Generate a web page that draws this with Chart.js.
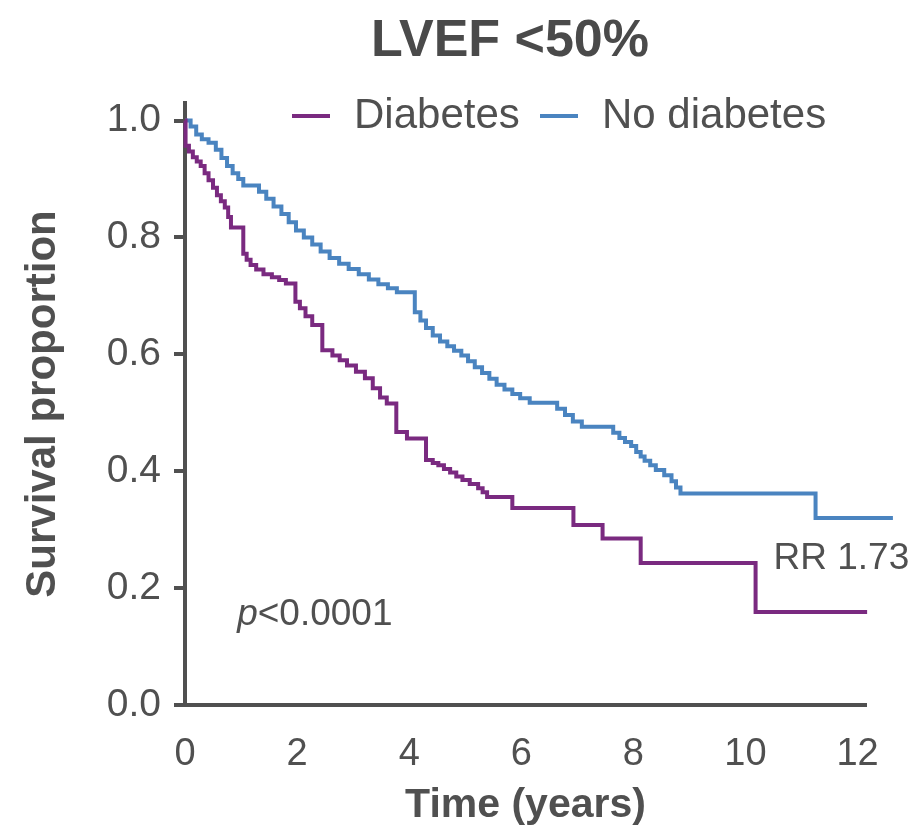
<!DOCTYPE html>
<html>
<head>
<meta charset="utf-8">
<script src="https://cdn.jsdelivr.net/npm/chart.js@4.4.1/dist/chart.umd.min.js"></script>
<style>
  html, body { margin: 0; padding: 0; background: #ffffff; }
  #wrap { width: 922px; height: 833px; position: relative; }
</style>
</head>
<body>
<div id="wrap"><canvas id="km"></canvas></div>
<script>
// Kaplan-Meier survival, LVEF <50% subgroup
const chartTitle = 'LVEF <50%';
const seriesNames = ['Diabetes', 'No diabetes'];

// Diabetes: time of each drop (years) and survival after it
const diabetesTime = [0, 0.01, 0.07, 0.14, 0.21, 0.28, 0.35, 0.42, 0.5, 0.57, 0.64, 0.71, 0.77, 0.82,
  1.04, 1.1, 1.17, 1.27, 1.4, 1.55, 1.68, 1.8,
  1.97, 2.05, 2.15, 2.27, 2.45, 2.63, 2.76, 2.89, 3.05, 3.21, 3.35, 3.48, 3.6,
  3.77, 3.96, 4.3, 4.42, 4.52, 4.62, 4.73, 4.84, 4.95, 5.08, 5.23, 5.31, 5.39,
  5.84, 6.93, 7.45, 8.13, 10.18, 12.17];
const diabetesSurv = [1.0, 0.957, 0.947, 0.937, 0.93, 0.922, 0.91, 0.898, 0.885, 0.872, 0.862, 0.851, 0.835, 0.817,
  0.772, 0.762, 0.753, 0.745, 0.737, 0.732, 0.727, 0.721,
  0.69, 0.679, 0.665, 0.65, 0.607, 0.598, 0.59, 0.581, 0.57, 0.559, 0.542, 0.526, 0.516,
  0.467, 0.456, 0.419, 0.414, 0.41, 0.404, 0.398, 0.391, 0.385, 0.378, 0.371, 0.364, 0.356,
  0.337, 0.308, 0.285, 0.243, 0.159, 0.159];

// No diabetes
const noDiabetesTime = [0, 0.1, 0.2, 0.3, 0.42, 0.55, 0.65, 0.75, 0.85, 0.95, 1.04,
  1.32, 1.45, 1.58, 1.72, 1.85, 1.98, 2.12, 2.27, 2.42, 2.58, 2.75, 2.92, 3.1, 3.28, 3.45, 3.62, 3.78,
  4.1, 4.2, 4.3, 4.42, 4.55, 4.68, 4.8, 4.93, 5.05, 5.17, 5.3, 5.43, 5.56, 5.7, 5.84, 5.98, 6.15,
  6.64, 6.78, 6.92, 7.08,
  7.64, 7.75, 7.85, 7.96, 8.05, 8.13, 8.2, 8.3, 8.4, 8.55, 8.68, 8.76, 8.84,
  11.25, 12.63];
const noDiabetesSurv = [1.0, 0.99, 0.976, 0.968, 0.962, 0.95, 0.936, 0.922, 0.91, 0.9, 0.889,
  0.878, 0.866, 0.853, 0.84, 0.826, 0.812, 0.8, 0.788, 0.776, 0.765, 0.755, 0.746, 0.737, 0.728, 0.72, 0.713, 0.706,
  0.672, 0.658, 0.645, 0.632, 0.622, 0.614, 0.606, 0.598, 0.588, 0.578, 0.568, 0.558, 0.548, 0.54, 0.532, 0.525, 0.517,
  0.507, 0.496, 0.485, 0.476,
  0.466, 0.457, 0.45, 0.443, 0.433, 0.425, 0.418, 0.41, 0.402, 0.393, 0.383, 0.372, 0.362,
  0.32, 0.32];

const xTickValues = [0, 2, 4, 6, 8, 10, 12];
const yTickValues = [0.0, 0.2, 0.4, 0.6, 0.8, 1.0];
const pValueLabel = ['p', '<0.0001'];
const rrLabel = 'RR 1.73';

const purple = '#7a2a80';
const blue = '#4a84c0';
const ink = '#505050';
const fontFamily = "'Liberation Sans', Arial, Helvetica, sans-serif";

Chart.defaults.font.family = fontFamily;
Chart.defaults.color = ink;

const toPoints = (ts, ss) => ts.map((t, i) => ({ x: t, y: ss[i] }));

// Title, legend and the two text notes drawn on top of the plot
const overlay = {
  id: 'overlay',
  afterDatasetsDraw(chart) {
    const { ctx, chartArea, scales } = chart;
    ctx.save();
    ctx.fillStyle = '#4a4a4a';
    ctx.textBaseline = 'middle';
    ctx.textAlign = 'center';
    ctx.font = 'bold 52px ' + fontFamily;
    ctx.fillText(chartTitle, 510, 42);

    // legend
    const ly = 116;
    const items = [
      { name: seriesNames[0], color: purple, x: chartArea.left + 107 },
      { name: seriesNames[1], color: blue, x: chartArea.left + 355 }
    ];
    ctx.font = '42px ' + fontFamily;
    ctx.textAlign = 'left';
    items.forEach(it => {
      ctx.strokeStyle = it.color;
      ctx.lineWidth = 4;
      ctx.beginPath();
      ctx.moveTo(it.x, ly);
      ctx.lineTo(it.x + 38, ly);
      ctx.stroke();
      ctx.fillStyle = ink;
      ctx.fillText(it.name, it.x + 62, ly);
    });

    // p-value and relative risk
    const px = scales.x.getPixelForValue(0.93);
    const py = scales.y.getPixelForValue(0.155);
    ctx.font = 'italic 37px ' + fontFamily;
    ctx.fillText(pValueLabel[0], px, py);
    const pw = ctx.measureText(pValueLabel[0]).width;
    ctx.font = '37px ' + fontFamily;
    ctx.fillText(pValueLabel[1], px + pw, py);

    ctx.font = '37px ' + fontFamily;
    ctx.fillText(rrLabel, scales.x.getPixelForValue(10.5), scales.y.getPixelForValue(0.251));
    ctx.restore();
  }
};

new Chart(document.getElementById('km'), {
  type: 'line',
  data: {
    datasets: [
      {
        label: seriesNames[0],
        data: toPoints(diabetesTime, diabetesSurv),
        borderColor: purple,
        borderWidth: 4,
        stepped: true,
        pointRadius: 0,
        fill: false,
        clip: false
      },
      {
        label: seriesNames[1],
        data: toPoints(noDiabetesTime, noDiabetesSurv),
        borderColor: blue,
        borderWidth: 4,
        stepped: true,
        pointRadius: 0,
        fill: false,
        clip: false
      }
    ]
  },
  options: {
    responsive: true,
    maintainAspectRatio: false,
    devicePixelRatio: 1,
    animation: false,
    events: [],
    layout: { padding: { left: 0, right: 56, top: 103, bottom: 0 } },
    plugins: {
      legend: { display: false },
      tooltip: { enabled: false },
      title: { display: false }
    },
    scales: {
      x: {
        type: 'linear',
        min: 0,
        max: 12.15,
        afterFit: s => { s.height = 128; },
        afterBuildTicks: s => { s.ticks = xTickValues.map(v => ({ value: v })); },
        ticks: {
          font: { size: 38 },
          color: ink,
          padding: 19,
          maxRotation: 0,
          autoSkip: false
        },
        grid: { display: false },
        border: { display: true, color: ink, width: 4 },
        title: {
          display: true,
          text: 'Time (years)',
          color: ink,
          font: { size: 41, weight: 'bold' },
          padding: { top: 0, bottom: 3 }
        }
      },
      y: {
        type: 'linear',
        min: 0,
        max: 1.03,
        afterFit: s => { s.width = 185; },
        afterBuildTicks: s => { s.ticks = yTickValues.map(v => ({ value: v })); },
        ticks: {
          font: { size: 39 },
          color: ink,
          padding: 13,
          callback: v => Number(v).toFixed(1)
        },
        grid: {
          display: true,
          drawOnChartArea: false,
          drawTicks: true,
          tickLength: 11,
          color: ink,
          lineWidth: 4
        },
        border: { display: true, color: ink, width: 4 },
        title: {
          display: true,
          text: 'Survival proportion',
          color: ink,
          font: { size: 42, weight: 'bold' },
          padding: { top: 18, bottom: 18 }
        }
      }
    }
  },
  plugins: [overlay]
});
</script>
</body>
</html>
